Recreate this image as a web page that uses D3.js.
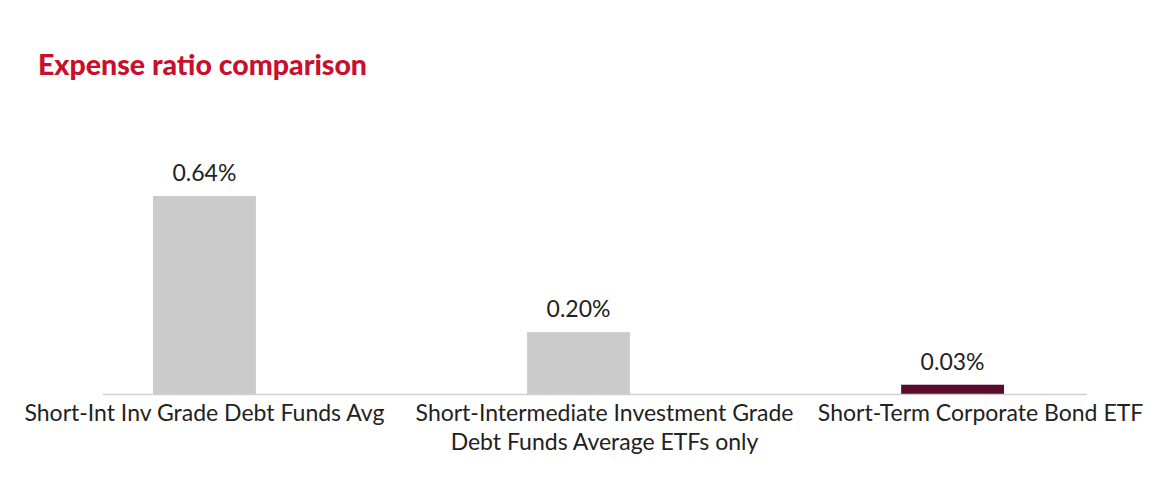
<!DOCTYPE html>
<html>
<head>
<meta charset="utf-8">
<script src="https://cdn.jsdelivr.net/npm/d3@7"></script>
<style>
  body { margin: 0; background: #fff; }
  svg { display: block; }
</style>
</head>
<body>
<svg id="chart" width="1173" height="493"></svg>
<script>
const title = "Expense ratio comparison";
const categories = [
  ["Short-Int Inv Grade Debt Funds Avg"],
  ["Short-Intermediate Investment Grade", "Debt Funds Average ETFs only"],
  ["Short-Term Corporate Bond ETF"]
];
const categoryKeys = ["avg", "etfAvg", "fund"];
const values = [0.64, 0.20, 0.03];
const valueLabels = ["0.64%", "0.20%", "0.03%"];
const barColors = ["#cbcbcb", "#cbcbcb", "#5c0a2e"];

const svg = d3.select("#chart");
const baseline = 394;
const font = "Lato, 'Open Sans', sans-serif";

const x = d3.scaleBand()
  .domain(categoryKeys)
  .range([153, 1004])
  .paddingInner(0.725)
  .paddingOuter(0);

const y = d3.scaleLinear()
  .domain([0, 0.64])
  .range([baseline, 196]);

svg.append("text")
  .attr("x", 38)
  .attr("y", 75)
  .attr("fill", "#c8102e")
  .attr("font-family", font)
  .attr("font-weight", 900)
  .attr("font-size", 28.5)
  .text(title);

svg.selectAll("rect.bar")
  .data(values)
  .join("rect")
  .attr("class", "bar")
  .attr("x", (d, i) => x(categoryKeys[i]))
  .attr("width", x.bandwidth())
  .attr("y", d => y(d))
  .attr("height", d => baseline - y(d))
  .attr("fill", (d, i) => barColors[i]);

svg.append("line")
  .attr("x1", 103).attr("x2", 1087)
  .attr("y1", baseline + 0.5).attr("y2", baseline + 0.5)
  .attr("stroke", "#d0d0d0")
  .attr("stroke-width", 1.5);

svg.selectAll("text.val")
  .data(values)
  .join("text")
  .attr("class", "val")
  .attr("x", (d, i) => x(categoryKeys[i]) + x.bandwidth() / 2)
  .attr("y", d => y(d) - 15)
  .attr("text-anchor", "middle")
  .attr("fill", "#222")
  .attr("font-family", font)
  .attr("font-size", 23)
  .text((d, i) => valueLabels[i]);

const labelOffsets = [0, 26, 28];
const cat = svg.selectAll("text.cat")
  .data(categories)
  .join("text")
  .attr("class", "cat")
  .attr("text-anchor", "middle")
  .attr("fill", "#222")
  .attr("font-family", font)
  .attr("font-size", 23)
  .attr("y", 421);

cat.selectAll("tspan")
  .data((d, i) => d.map(t => ({t, i})))
  .join("tspan")
  .attr("x", d => x(categoryKeys[d.i]) + x.bandwidth() / 2 + labelOffsets[d.i])
  .attr("dy", (d, j) => j === 0 ? 0 : 29)
  .text(d => d.t);
</script>
</body>
</html>
